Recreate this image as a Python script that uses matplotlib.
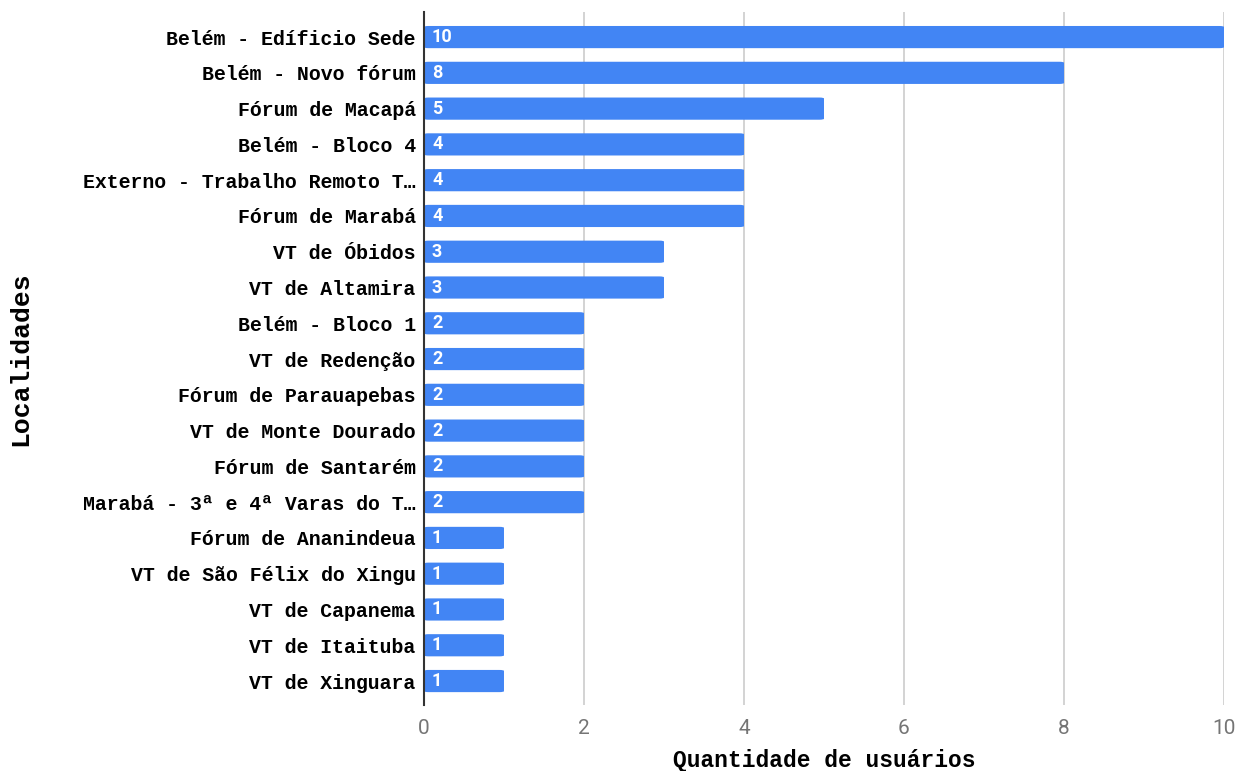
import matplotlib
matplotlib.use("Agg")
import matplotlib.pyplot as plt
from matplotlib.patches import FancyBboxPatch

localidades = [
    "Belém - Edíficio Sede",
    "Belém - Novo fórum",
    "Fórum de Macapá",
    "Belém - Bloco 4",
    "Externo - Trabalho Remoto T…",
    "Fórum de Marabá",
    "VT de Óbidos",
    "VT de Altamira",
    "Belém - Bloco 1",
    "VT de Redenção",
    "Fórum de Parauapebas",
    "VT de Monte Dourado",
    "Fórum de Santarém",
    "Marabá - 3ª e 4ª Varas do T…",
    "Fórum de Ananindeua",
    "VT de São Félix do Xingu",
    "VT de Capanema",
    "VT de Itaituba",
    "VT de Xinguara",
]
usuarios = [10, 8, 5, 4, 4, 4, 3, 3, 2, 2, 2, 2, 2, 2, 1, 1, 1, 1, 1]
x_ticks = [0, 2, 4, 6, 8, 10]

bar_color = "#4285F4"
mono = "Liberation Mono"

fig = plt.figure(figsize=(12.39, 7.71), dpi=100)
ax = fig.add_axes([0.3422, 0.0856, 0.6457, 0.8988])

pos = list(range(len(localidades)))
bars = ax.barh(pos, usuarios, height=0.62, color=bar_color, zorder=3)

# rounded bar ends
for b in bars:
    b.set_visible(False)
    x0, y0 = b.get_x(), b.get_y()
    w, h = b.get_width(), b.get_height()
    patch = FancyBboxPatch((x0, y0), w, h,
                           boxstyle="round,pad=0,rounding_size=0.06",
                           mutation_aspect=0.44,
                           facecolor=bar_color, edgecolor="none", zorder=3)
    ax.add_patch(patch)

for p, v in zip(pos, usuarios):
    ax.text(0.1, p, str(v), color="white", fontsize=13, fontweight="bold",
            family="Roboto", va="center", ha="left", zorder=4)

ax.set_ylim(len(localidades) - 1 + 0.67, -0.7)
ax.set_xlim(0, 10)
ax.set_yticks(pos)
ax.set_yticklabels(localidades, family=mono, fontweight="bold", fontsize=14.3)
ax.set_xticks(x_ticks)
ax.set_xticklabels([str(t) for t in x_ticks], family="Roboto", fontsize=15,
                   color="#757575")
ax.tick_params(axis="y", length=0, pad=6)
ax.tick_params(axis="x", length=0, pad=10)

ax.grid(axis="x", color="#cccccc", linewidth=1.2, zorder=0)
ax.set_axisbelow(True)
for s in ["top", "right", "bottom"]:
    ax.spines[s].set_visible(False)
ax.spines["left"].set_color("#333333")
ax.spines["left"].set_linewidth(1.5)
ax.spines["left"].set_zorder(5)

ax.set_xlabel("Quantidade de usuários", family=mono, fontweight="bold",
              fontsize=16.5, labelpad=8)
ax.set_ylabel("Localidades", family=mono, fontweight="bold", fontsize=19)
ax.yaxis.set_label_coords(-0.49, 0.5)

fig.savefig("out.png", dpi=100, facecolor="white")
